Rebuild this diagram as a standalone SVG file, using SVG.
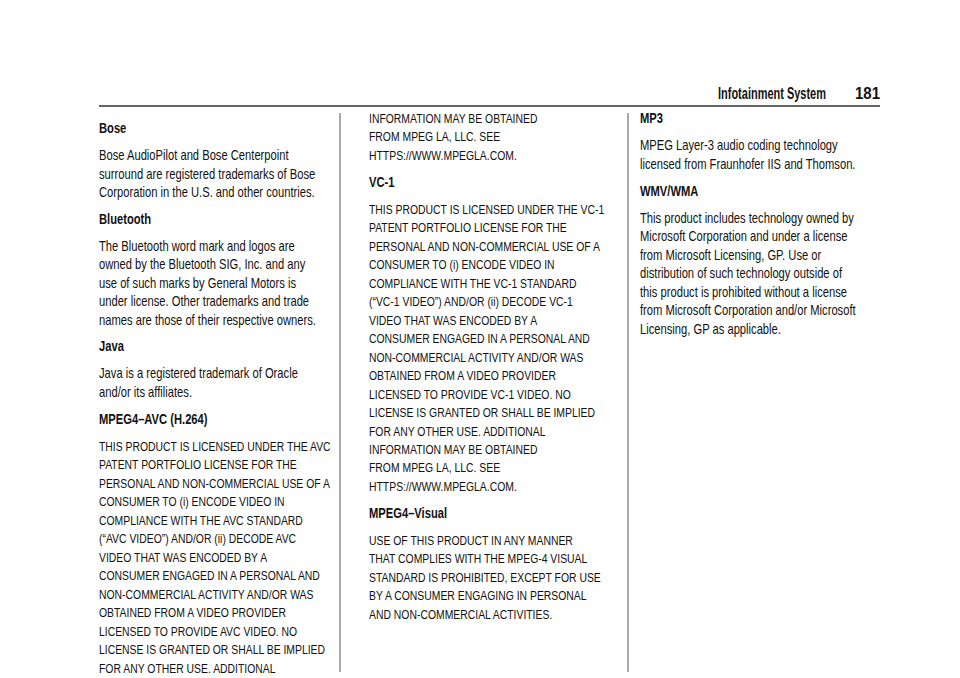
<svg xmlns="http://www.w3.org/2000/svg" width="960" height="678" viewBox="0 0 960 678">
<style>
text{font-family:"Liberation Sans",Arial,sans-serif;fill:#111}
.l{font-size:14px}
.u{font-size:13px}
.h{font-size:14px;font-weight:bold}
.hd{font-size:17px;font-weight:bold}
</style>
<rect width="960" height="678" fill="#fff"/>
<g id="header">
<text class="hd" x="718" y="99" textLength="108" lengthAdjust="spacingAndGlyphs">Infotainment System</text>
<text class="hd" x="855" y="99" textLength="25" lengthAdjust="spacingAndGlyphs">181</text>
<line x1="99" y1="106" x2="880" y2="106" stroke="#333" stroke-width="1.5"/>
<line x1="340" y1="113" x2="340" y2="672" stroke="#555" stroke-width="1"/>
<line x1="628" y1="113" x2="628" y2="672" stroke="#555" stroke-width="1"/>
</g>
<g id="col1" transform="translate(99,0) scale(0.8,1)">
<text class="h" y="133">Bose</text>
<text class="l" y="160">Bose AudioPilot and Bose Centerpoint</text>
<text class="l" y="179">surround are registered trademarks of Bose</text>
<text class="l" y="197">Corporation in the U.S. and other countries.</text>
<text class="h" y="224">Bluetooth</text>
<text class="l" y="251">The Bluetooth word mark and logos are</text>
<text class="l" y="269">owned by the Bluetooth SIG, Inc. and any</text>
<text class="l" y="288">use of such marks by General Motors is</text>
<text class="l" y="306">under license. Other trademarks and trade</text>
<text class="l" y="325">names are those of their respective owners.</text>
<text class="h" y="351">Java</text>
<text class="l" y="378">Java is a registered trademark of Oracle</text>
<text class="l" y="397">and/or its affiliates.</text>
<text class="h" y="424">MPEG4–AVC (H.264)</text>
<text class="u" y="451">THIS PRODUCT IS LICENSED UNDER THE AVC</text>
<text class="u" y="469">PATENT PORTFOLIO LICENSE FOR THE</text>
<text class="u" y="488">PERSONAL AND NON-COMMERCIAL USE OF A</text>
<text class="u" y="506">CONSUMER TO (i) ENCODE VIDEO IN</text>
<text class="u" y="525">COMPLIANCE WITH THE AVC STANDARD</text>
<text class="u" y="543">(“AVC VIDEO”) AND/OR (ii) DECODE AVC</text>
<text class="u" y="562">VIDEO THAT WAS ENCODED BY A</text>
<text class="u" y="580">CONSUMER ENGAGED IN A PERSONAL AND</text>
<text class="u" y="599">NON-COMMERCIAL ACTIVITY AND/OR WAS</text>
<text class="u" y="617">OBTAINED FROM A VIDEO PROVIDER</text>
<text class="u" y="636">LICENSED TO PROVIDE AVC VIDEO. NO</text>
<text class="u" y="654">LICENSE IS GRANTED OR SHALL BE IMPLIED</text>
<text class="u" y="673">FOR ANY OTHER USE. ADDITIONAL</text>
</g>
<g id="col2" transform="translate(369,0) scale(0.8,1)">
<text class="u" y="123">INFORMATION MAY BE OBTAINED</text>
<text class="u" y="141">FROM MPEG LA, LLC. SEE</text>
<text class="u" y="160">HTTPS://WWW.MPEGLA.COM.</text>
<text class="h" y="187">VC-1</text>
<text class="u" y="214">THIS PRODUCT IS LICENSED UNDER THE VC-1</text>
<text class="u" y="232">PATENT PORTFOLIO LICENSE FOR THE</text>
<text class="u" y="251">PERSONAL AND NON-COMMERCIAL USE OF A</text>
<text class="u" y="269">CONSUMER TO (i) ENCODE VIDEO IN</text>
<text class="u" y="288">COMPLIANCE WITH THE VC-1 STANDARD</text>
<text class="u" y="306">(“VC-1 VIDEO”) AND/OR (ii) DECODE VC-1</text>
<text class="u" y="325">VIDEO THAT WAS ENCODED BY A</text>
<text class="u" y="343">CONSUMER ENGAGED IN A PERSONAL AND</text>
<text class="u" y="362">NON-COMMERCIAL ACTIVITY AND/OR WAS</text>
<text class="u" y="380">OBTAINED FROM A VIDEO PROVIDER</text>
<text class="u" y="399">LICENSED TO PROVIDE VC-1 VIDEO. NO</text>
<text class="u" y="417">LICENSE IS GRANTED OR SHALL BE IMPLIED</text>
<text class="u" y="436">FOR ANY OTHER USE. ADDITIONAL</text>
<text class="u" y="454">INFORMATION MAY BE OBTAINED</text>
<text class="u" y="472">FROM MPEG LA, LLC. SEE</text>
<text class="u" y="491">HTTPS://WWW.MPEGLA.COM.</text>
<text class="h" y="518">MPEG4–Visual</text>
<text class="u" y="545">USE OF THIS PRODUCT IN ANY MANNER</text>
<text class="u" y="563">THAT COMPLIES WITH THE MPEG-4 VISUAL</text>
<text class="u" y="582">STANDARD IS PROHIBITED, EXCEPT FOR USE</text>
<text class="u" y="600">BY A CONSUMER ENGAGING IN PERSONAL</text>
<text class="u" y="619">AND NON-COMMERCIAL ACTIVITIES.</text>
</g>
<g id="col3" transform="translate(640,0) scale(0.8,1)">
<text class="h" y="123">MP3</text>
<text class="l" y="150">MPEG Layer-3 audio coding technology</text>
<text class="l" y="169">licensed from Fraunhofer IIS and Thomson.</text>
<text class="h" y="196">WMV/WMA</text>
<text class="l" y="223">This product includes technology owned by</text>
<text class="l" y="241">Microsoft Corporation and under a license</text>
<text class="l" y="260">from Microsoft Licensing, GP. Use or</text>
<text class="l" y="278">distribution of such technology outside of</text>
<text class="l" y="297">this product is prohibited without a license</text>
<text class="l" y="315">from Microsoft Corporation and/or Microsoft</text>
<text class="l" y="334">Licensing, GP as applicable.</text>
</g>
</svg>
